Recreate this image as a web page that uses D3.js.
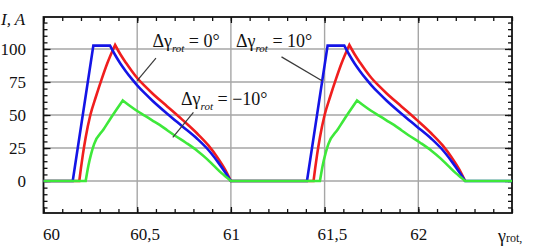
<!DOCTYPE html>
<html>
<head>
<meta charset="utf-8">
<script src="https://cdn.jsdelivr.net/npm/d3@7"></script>
<style>
  html, body { margin: 0; padding: 0; background: #fff; }
  svg, svg text { font-family: "Liberation Serif", "Times New Roman", Times, "DejaVu Serif", serif; }
</style>
</head>
<body>
<div id="chart"></div>
<script>
'use strict';

// ─── Data ─────────────────────────────────────────────────────────────────────
const X_TICKS      = [60, 60.5, 61, 61.5, 62];
const X_TICK_TEXT  = ['60', '60,5', '61', '61,5', '62'];
const Y_TICKS      = [0, 25, 50, 75, 100];

// Δγrot = 10°  (blue)
const blueX = [60.00, 60.156, 60.266, 60.355, 60.38, 60.41, 60.44, 60.47, 60.50, 60.54, 60.58, 60.66, 60.74, 60.82, 60.88, 60.93, 60.97, 61.00, 61.03,
               61.406, 61.516, 61.605, 61.63, 61.66, 61.69, 61.72, 61.75, 61.79, 61.83, 61.91, 61.99, 62.07, 62.13, 62.18, 62.22, 62.25, 62.50];
const blueY = [0, 0, 102.5, 102.5, 96, 89, 83, 77.5, 72.5, 66.5, 61, 51, 41.5, 32, 23.5, 14.5, 6.5, 0, 0,
               0, 102.5, 102.5, 96, 89, 83, 77.5, 72.5, 66.5, 61, 51, 41.5, 32, 23.5, 14.5, 6.5, 0, 0];

// Δγrot = 0°  (red)
const redX = [60.00, 60.191, 60.20, 60.21, 60.225, 60.25, 60.28, 60.31, 60.34, 60.382, 60.41, 60.44, 60.47, 60.50, 60.54, 60.58, 60.66, 60.74, 60.82, 60.88, 60.93, 60.97, 61.00,
              61.441, 61.45, 61.46, 61.475, 61.50, 61.53, 61.56, 61.59, 61.632, 61.66, 61.69, 61.72, 61.75, 61.79, 61.83, 61.91, 61.99, 62.07, 62.13, 62.18, 62.22, 62.25];
const redY = [0, 0, 10, 20, 33, 50, 64, 77, 89, 103, 96, 89.5, 83.5, 78, 72, 66.5, 56.5, 46.5, 36, 27, 17.5, 8.5, 0,
              0, 10, 20, 33, 50, 64, 77, 89, 103, 96, 89.5, 83.5, 78, 72, 66.5, 56.5, 46.5, 36, 27, 17.5, 8.5, 0];

// Δγrot = −10°  (green)
const greenX = [60.00, 60.225, 60.24, 60.255, 60.27, 60.32, 60.37, 60.423, 60.46, 60.50, 60.54, 60.58, 60.62, 60.66, 60.70, 60.76, 60.82, 60.87, 60.91, 60.95, 60.98, 61.00,
                61.475, 61.49, 61.505, 61.52, 61.57, 61.62, 61.673, 61.71, 61.75, 61.79, 61.83, 61.87, 61.91, 61.95, 62.01, 62.07, 62.12, 62.16, 62.20, 62.23, 62.25, 62.50];
const greenY = [0, 0, 12, 21, 28, 39, 50, 61, 57, 53, 49.5, 46, 42.5, 38.5, 34.5, 29, 23, 17, 11.5, 6, 2.5, 0,
                0, 12, 21, 28, 39, 50, 61, 57, 53, 49.5, 46, 42.5, 38.5, 34.5, 29, 23, 17, 11.5, 6, 2.5, 0, 0];

// ─── Layout ───────────────────────────────────────────────────────────────────
const W = 533, H = 252;
const PLOT = { left: 43.5, right: 512, top: 17, bottom: 213 };
const FONT = '"Liberation Serif", "Times New Roman", Times, serif';

const x = d3.scaleLinear().domain([60, 62.5]).range([PLOT.left, PLOT.right]);
const y = d3.scaleLinear().domain([-24.2, 124.2]).range([PLOT.bottom, PLOT.top]);

const svg = d3.select('#chart').append('svg')
  .attr('width', W)
  .attr('height', H)
  .attr('font-family', FONT);

// ─── Grid ─────────────────────────────────────────────────────────────────────
const grid = svg.append('g').attr('stroke', '#a6a6a6').attr('stroke-width', 1.4);
X_TICKS.slice(1).forEach(t => {
  grid.append('line')
    .attr('x1', x(t)).attr('x2', x(t))
    .attr('y1', PLOT.top).attr('y2', PLOT.bottom);
});
Y_TICKS.forEach(t => {
  grid.append('line')
    .attr('x1', PLOT.left).attr('x2', PLOT.right)
    .attr('y1', y(t)).attr('y2', y(t));
});

// ─── Axes (ticks inward on all four sides) ───────────────────────────────────
const xMinor = d3.range(60, 62.5001, 0.1);
const yMinor = d3.range(-20, 124, 5);

function addAxis(axis, transform) {
  const g = svg.append('g').attr('transform', transform).call(axis);
  g.select('.domain').remove();
  g.selectAll('text').remove();
  g.selectAll('line').attr('stroke', '#111').attr('stroke-width', 1.3);
  return g;
}

addAxis(d3.axisBottom(x).tickValues(xMinor).tickSize(-4), `translate(0,${PLOT.bottom})`);
addAxis(d3.axisBottom(x).tickValues(X_TICKS).tickSize(-6), `translate(0,${PLOT.bottom})`);
addAxis(d3.axisTop(x).tickValues(xMinor).tickSize(-4), `translate(0,${PLOT.top})`);
addAxis(d3.axisTop(x).tickValues(X_TICKS).tickSize(-6), `translate(0,${PLOT.top})`);
addAxis(d3.axisLeft(y).tickValues(yMinor).tickSize(-4), `translate(${PLOT.left},0)`);
addAxis(d3.axisLeft(y).tickValues(Y_TICKS).tickSize(-7), `translate(${PLOT.left},0)`);
addAxis(d3.axisRight(y).tickValues(yMinor).tickSize(-4), `translate(${PLOT.right},0)`);
addAxis(d3.axisRight(y).tickValues(Y_TICKS).tickSize(-7), `translate(${PLOT.right},0)`);

svg.append('rect')
  .attr('x', PLOT.left).attr('y', PLOT.top)
  .attr('width', PLOT.right - PLOT.left)
  .attr('height', PLOT.bottom - PLOT.top)
  .attr('fill', 'none')
  .attr('stroke', '#111')
  .attr('stroke-width', 1.8);

// ─── Tick labels ──────────────────────────────────────────────────────────────
Y_TICKS.forEach(t => {
  svg.append('text')
    .attr('x', 26)
    .attr('y', y(t))
    .attr('dy', '0.35em')
    .attr('text-anchor', 'end')
    .attr('font-size', '17px')
    .attr('fill', '#111')
    .text(t);
});

X_TICKS.forEach((t, i) => {
  const label = X_TICK_TEXT[i];
  const isDecimal = label.includes(',');
  svg.append('text')
    .attr('x', x(t) + (i === 0 ? -0.5 : isDecimal ? -7 : -8))
    .attr('y', 240)
    .attr('text-anchor', 'start')
    .attr('font-size', '17px')
    .attr('fill', '#111')
    .text(label);
});

// Axis titles
svg.append('text')
  .attr('x', 1).attr('y', 25)
  .attr('font-size', '17px')
  .attr('font-style', 'italic')
  .attr('fill', '#111')
  .text('I, A');

const xTitle = svg.append('text')
  .attr('x', 498).attr('y', 242)
  .attr('fill', '#111');
xTitle.append('tspan').attr('font-size', '18px').text('γ');
xTitle.append('tspan').attr('font-size', '12px').text('rot,');

// ─── Curves ───────────────────────────────────────────────────────────────────
// Smooth each monotone run (rise / flat / decay) but keep sharp corners where
// the run changes direction: each run gets its own monotone curve and the
// pieces are stitched into one path.
const runLine = d3.line()
  .x(d => x(d[0]))
  .y(d => y(d[1]))
  .curve(d3.curveMonotoneX);

function splitRuns(pts) {
  const runs = [];
  let cur = [pts[0]];
  let sgn = null;
  for (let i = 1; i < pts.length; i++) {
    const s = Math.sign(pts[i][1] - pts[i - 1][1]);
    if (sgn === null || s === sgn) {
      cur.push(pts[i]);
    } else {
      runs.push(cur);
      cur = [pts[i - 1], pts[i]];
    }
    sgn = s;
  }
  runs.push(cur);
  return runs;
}

function pathFor(pts) {
  return splitRuns(pts)
    .map((r, i) => {
      const d = runLine(r);
      return i === 0 ? d : 'L' + d.slice(1);
    })
    .join('');
}

const SERIES = [
  { xs: redX,   ys: redY,   color: '#f01e1e' },
  { xs: blueX,  ys: blueY,  color: '#1414e6' },
  { xs: greenX, ys: greenY, color: '#3ee83a' },
];

SERIES.forEach(s => {
  svg.append('path')
    .attr('d', pathFor(s.xs.map((v, i) => [v, s.ys[i]])))
    .attr('fill', 'none')
    .attr('stroke', s.color)
    .attr('stroke-width', 2.6)
    .attr('stroke-linejoin', 'miter');
});

// ─── Annotations ──────────────────────────────────────────────────────────────
const NOTES = [
  { tx: 60.581, ty: 101.5, label: ' = 0°',   from: [60.60, 93], to: [60.50, 76] },
  { tx: 61.027, ty: 101.5, label: ' = 10°',  from: [61.27, 94], to: [61.486, 76] },
  { tx: 60.734, ty: 57.5,  label: ' = −10°', from: [60.80, 52], to: [60.69, 33] },
];

NOTES.forEach(n => {
  svg.append('line')
    .attr('x1', x(n.from[0])).attr('y1', y(n.from[1]))
    .attr('x2', x(n.to[0])).attr('y2', y(n.to[1]))
    .attr('stroke', '#3a3a3a')
    .attr('stroke-width', 1.2);

  const t = svg.append('text')
    .attr('x', x(n.tx))
    .attr('y', y(n.ty))
    .attr('fill', '#111')
    .attr('font-size', '18px');
  t.append('tspan').text('Δγ');
  t.append('tspan').attr('font-size', '11px').attr('font-style', 'italic').attr('dy', 5).text('rot');
  t.append('tspan').attr('dy', -5).text(n.label);
});
</script>
</body>
</html>
